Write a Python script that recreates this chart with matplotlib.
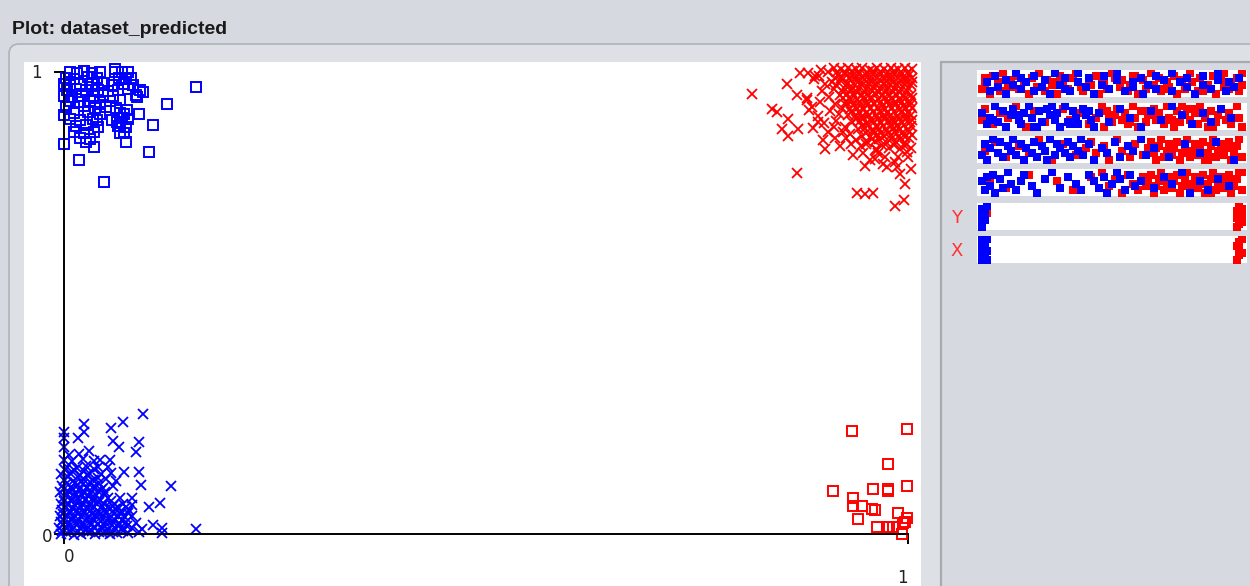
import matplotlib.pyplot as plt
from matplotlib.patches import FancyBboxPatch, Rectangle

# ---- scatter data (X, Y) ----
# blue squares, top-left
bsq_x = [.007, .015, .024, .033, .043, .060, .069, .076,
         .002, .012, .028, .039, .065, .073, .079,
         .000, .007, .019, .033, .047, .057, .071, .082,
         .004, .014, .026, .040, .052, .064, .076, .090,
         .000, .009, .021, .036, .046, .058, .086,
         .007, .017, .031, .043, .055, .066,
         .002, .024, .037, .050, .062,
         .012, .028, .043, .066, .071,
         .007, .019, .034, .057, .069, .076,
         .014, .026, .040, .064, .073,
         .012, .024, .036, .066,
         .019, .031,
         .156, .122, .105, .101, .047, .018, .000, .000, .036, .073,
         .071, .089, .075, .094, .085, .060, .039, .026, .063, .066]
bsq_y = [1.0, .998, 1.002, .997, 1.0, 1.006, .999, 1.001,
         .987, .985, .989, .986, .988, .984, .987,
         .974, .972, .975, .973, .976, .971, .974, .972,
         .961, .963, .960, .962, .959, .961, .963, .960,
         .948, .946, .949, .947, .950, .948, .946,
         .937, .935, .938, .936, .937, .939,
         .924, .926, .923, .925, .922,
         .911, .913, .910, .912, .909,
         .898, .896, .899, .897, .900, .898,
         .883, .885, .882, .884, .881,
         .870, .868, .871, .869,
         .857, .855,
         .967, .931, .885, .827, .762, .810, .844, .907, .838, .848,
         .868, .909, .918, .957, .950, 1.0, .896, .848, .892, .892]

# blue crosses, bottom-left
bx_x = [-.004, .004, .012, .020, .029, .037, .046, .054, .063, .076, .089, .116,
        -.006, .002, .010, .019, .027, .036, .044, .052, .061, .069, .080, .093,
        -.003, .006, .014, .023, .031, .040, .048, .057, .065, .073, .085,
        -.005, .003, .011, .020, .028, .037, .045, .055, .064, .072, .081,
        -.002, .007, .015, .024, .032, .041, .049, .060, .068, .077,
        -.004, .004, .013, .021, .030, .038, .047, .058, .070, .080,
        -.001, .009, .017, .026, .034, .043, .052, .066,
        -.005, .005, .013, .022, .031, .040, .049,
        -.002, .008, .017, .027, .036, .046, .058,
        .000, .011, .022, .034, .050, .062,
        -.003, .007, .019, .030, .044, .056,
        .003, .015, .026, .040, .052,
        .000, .010, .022, .036,
        .006, .018,
        -.002, .008, .016, .025, .033, .041, .050, .058, .070,
        -.001, .006, .015, .023, .032, .040, .048, .057, .065, .075,
        -.001, .010, .018, .027, .035, .044, .052, .061, .069,
        -.001, .007, .016, .024, .033, .041, .050, .059, .068, .076,
        .002, .011, .020, .028, .036, .045, .054, .064, .073,
        .000, .008, .017, .025, .034, .042, .056,
        .004, .013, .021, .030, .038, .047,
        .000, .009, .018, .027, .035, .044,
        .003, .013, .022, .031, .041,
        .005, .016, .028, .040,
        .001, .012, .024, .036,
        .094, .070, .056, .024, .024, .000, .000, .000, .017, .030, .058, .065, .089,
        .085, .127, .156, .114, .105, .101, .089, .091, .071, .055, .043, .081, .116]
bx_y = [.000, .003, -.002, .001, .004, .000, .002, -.001, .003, .002, .004, .003,
        .012, .014, .010, .013, .011, .015, .012, .009, .013, .011, .014, .010,
        .025, .023, .027, .024, .026, .022, .025, .028, .024, .026, .023,
        .038, .040, .036, .039, .037, .041, .038, .035, .039, .037, .040,
        .051, .049, .053, .050, .052, .048, .051, .054, .050, .052,
        .064, .066, .062, .065, .063, .067, .064, .061, .066, .063,
        .077, .075, .079, .076, .078, .074, .077, .079,
        .090, .092, .088, .091, .089, .093, .090,
        .103, .101, .105, .102, .104, .100, .103,
        .117, .115, .119, .116, .118, .114,
        .130, .132, .128, .131, .129, .133,
        .145, .143, .147, .144, .146,
        .160, .158, .162, .159,
        .172, .174,
        .006, .007, .005, .008, .006, .004, .007, .005, .006,
        .019, .018, .020, .017, .019, .021, .018, .020, .019, .017,
        .031, .032, .030, .033, .031, .029, .032, .030, .031,
        .044, .045, .043, .046, .044, .042, .045, .043, .044, .046,
        .058, .057, .059, .056, .058, .060, .057, .059, .058,
        .071, .072, .070, .073, .071, .069, .072,
        .084, .083, .085, .082, .084, .086,
        .097, .098, .096, .099, .097, .095,
        .110, .111, .109, .112, .110,
        .124, .123, .125, .122,
        .138, .139, .137, .140,
        .260, .242, .229, .238, .221, .221, .208, .188, .208, .180, .201, .188, .199,
        .177, .104, .011, .067, .019, .058, .134, .106, .134, .160, .160, .078, .013]

# red crosses, top-right
rx_x = [.912, .921, .929, .938, .946, .955, .963, .971, .980, .988, .996, 1.005,
        .917, .925, .934, .942, .950, .959, .967, .976, .984, .992, 1.001,
        .910, .921, .929, .938, .946, .955, .963, .971, .980, .988, .997, 1.005,
        .924, .933, .941, .950, .958, .967, .975, .983, .992, 1.000,
        .919, .928, .936, .945, .953, .962, .970, .978, .987, .995, 1.004,
        .926, .934, .943, .951, .960, .968, .976, .985, .993, 1.002,
        .922, .931, .939, .948, .956, .965, .973, .981, .990, .998, 1.005,
        .929, .938, .946, .954, .963, .971, .980, .988, .996, 1.003,
        .934, .943, .951, .960, .968, .977, .985, .993, 1.002,
        .941, .949, .958, .966, .975, .983, .991, 1.000,
        .946, .955, .963, .972, .980, .989, .997, 1.005,
        .952, .961, .975, .986, .996,
        .962, .978, .990, 1.003,
        .916, .925, .934, .942, .951, .959, .967, .976, .984, .992, 1.000,
        .913, .921, .930, .938, .946, .955, .963, .972, .980, .988, .997, 1.005,
        .915, .928, .937, .945, .954, .962, .971, .979, .987, .996, 1.004,
        .923, .932, .940, .949, .957, .966, .974, .982, .991, .999,
        .923, .930, .939, .947, .956, .964, .972, .981, .989, .997, 1.005,
        .926, .935, .943, .952, .960, .969, .977, .985, .994, 1.002,
        .933, .942, .950, .959, .967, .975, .984, .992, 1.000,
        .938, .947, .955, .964, .972, .981, .989, .997, 1.005,
        .945, .953, .962, .970, .979, .987, .995, 1.003,
        .950, .959, .968, .976, .985, .993, 1.001,
        .957, .966, .980, .991, 1.001,
        .969, .984, .997,
        .895, .902, .898, .906, .912, .905, .897, .889, .913, .918, .908, .915,
        .925, .931, .938, .926, .944, .932, .880, .886, .893, .900, .905, .912,
        .920, .935, .947, .955, .970, .985, 1.000, .990, 1.003, .965, .950,
        .815, .857, .868, .872, .882, .890, .839, .845, .858, .851, .858, .870,
        .868, .880, .883, .887, .893, .896, .899, .902, .914, .923, .949, .961,
        .963, .940, .949, .959, .996, .995, .985, .975, .987, .999, .973, .988]
rx_y = [1.008, 1.006, 1.009, 1.007, 1.008, 1.005, 1.008, 1.006, 1.009, 1.007, 1.008, 1.006,
        .994, .996, .992, .995, .993, .996, .994, .992, .995, .993, .994,
        .979, .981, .977, .980, .978, .981, .979, .977, .980, .978, .981, .979,
        .965, .963, .966, .964, .967, .965, .963, .966, .964, .965,
        .950, .952, .948, .951, .949, .952, .950, .948, .951, .949, .950,
        .935, .937, .934, .936, .933, .935, .937, .934, .936, .935,
        .921, .919, .922, .920, .923, .921, .919, .922, .920, .923, .921,
        .906, .908, .905, .907, .904, .906, .908, .905, .907, .906,
        .891, .893, .889, .892, .890, .893, .891, .889, .892,
        .876, .878, .874, .877, .875, .878, .876, .874,
        .862, .860, .863, .861, .864, .862, .860, .863,
        .848, .850, .846, .849, .847,
        .834, .836, .833, .835,
        1.001, 1.000, 1.002, 1.001, 1.000, 1.002, 1.001, 1.000, 1.002, 1.001, 1.000,
        .987, .988, .986, .987, .989, .986, .988, .987, .986, .988, .987, .986,
        .972, .973, .971, .972, .974, .971, .973, .972, .971, .973, .972,
        .957, .958, .956, .957, .959, .956, .958, .957, .956, .958,
        .943, .944, .942, .943, .945, .942, .944, .943, .942, .944, .943,
        .928, .929, .927, .928, .930, .927, .929, .928, .927, .929,
        .913, .914, .912, .913, .915, .912, .914, .913, .912,
        .898, .899, .897, .898, .900, .897, .899, .898, .897,
        .884, .885, .883, .884, .886, .883, .885, .884,
        .869, .870, .868, .869, .871, .868, .870,
        .855, .856, .854, .855, .857,
        .841, .842, .840,
        .992, .975, .958, .945, .963, 1.000, 1.005, .985, .930, .910, .915, .895,
        .880, .865, .852, .858, .840, .845, .940, .925, .905, .890, .870, .880,
        .840, .820, .825, .810, .800, .805, .815, .780, .790, .825, .845,
        .952, .974, .950, .998, .998, .991, .920, .913, .898, .877, .861, .877,
        .781, .944, .918, .879, .892, .935, .853, .833, .857, .870, .797, .812,
        .831, .738, .736, .738, .758, .723, .710, .794, .794, .827, .816, .816]

# red squares, bottom-right
rsq_x = [.934, .999, .976, .911, .935, .935, .945, .959, .976, .976, .999, .957,
         .961, .941, .988, .963, .975, .978, .996, .999, .994, .993, .982]
rsq_y = [.223, .227, .152, .093, .078, .061, .061, .097, .097, .093, .104, .054,
         .052, .032, .045, .015, .015, .015, .026, .035, .024, .000, .015]

# ---- attribute strips on the right (value 0-100, jitter 0-9) ----
a1_red_v = [0, 1, 1, 3, 4, 6, 7, 8, 10, 11, 13, 14, 16, 18, 19, 21, 22, 24, 25, 27,
            29, 30, 31, 33, 35, 36, 38, 39, 41, 42, 44, 45, 47, 48, 50, 51, 53, 54, 56, 57,
            59, 60, 62, 63, 65, 66, 68, 69, 71, 72, 74, 75, 77, 78, 80, 81, 83, 84, 86, 87,
            89, 90, 92, 93, 95, 96, 98, 99, 100, 100, 12, 28, 46, 58, 70, 85, 93]
a1_red_j = [2, 7, 4, 0, 8, 5, 1, 9, 3, 6, 8, 2, 5, 0, 7, 3, 9, 1, 6, 4,
            0, 8, 5, 2, 7, 9, 3, 1, 6, 4, 8, 0, 5, 2, 9, 7, 3, 6, 1, 4,
            8, 0, 6, 2, 9, 4, 7, 1, 5, 3, 8, 0, 6, 2, 9, 5, 1, 7, 3, 4,
            8, 0, 6, 9, 2, 5, 7, 1, 4, 9, 3, 5, 6, 8, 2, 1, 3]
a1_blue_v = [2, 3, 5, 6, 9, 9, 12, 13, 15, 15, 17, 20, 20, 23, 24, 26, 28, 30, 32, 32,
             34, 37, 37, 40, 41, 43, 46, 47, 49, 52, 52, 55, 58, 58, 61, 62, 64, 67, 67, 70,
             73, 73, 76, 79, 79, 82, 85, 85, 88, 91, 91, 94, 95, 97, 99]
a1_blue_j = [5, 1, 8, 3, 6, 0, 4, 9, 2, 7, 5, 1, 8, 3, 6, 0, 9, 4, 2, 7,
             1, 5, 9, 3, 7, 0, 4, 8, 2, 6, 9, 1, 5, 3, 7, 0, 4, 8, 2, 6,
             1, 9, 5, 3, 7, 0, 4, 8, 2, 6, 9, 1, 5, 3, 7]

a2_red_v = [0, 1, 4, 7, 10, 13, 17, 20, 24, 27, 31, 34, 38, 41,
            44, 46, 47, 48, 50, 51, 52, 54, 55, 56, 58, 59, 60, 62, 63, 64, 66, 67, 68, 70,
            71, 72, 74, 75, 76, 78, 79, 80, 82, 83, 84, 86, 87, 88, 90, 91, 92, 94, 95, 96,
            98, 99, 100, 49, 57, 65, 73, 81, 89, 97, 61, 77]
a2_red_j = [3, 8, 1, 6, 4, 9, 0, 7, 2, 5, 8, 3, 6, 1,
            4, 9, 0, 7, 2, 5, 8, 3, 6, 1, 9, 4, 0, 7, 2, 5, 8, 3, 6, 1,
            9, 4, 0, 7, 2, 5, 8, 3, 6, 1, 9, 4, 0, 7, 2, 5, 8, 3, 6, 1,
            9, 4, 0, 5, 2, 6, 3, 8, 0, 4, 7, 9]
a2_blue_v = [0, 2, 3, 5, 6, 8, 9, 11, 12, 14, 15, 16, 18, 19, 21, 22, 23, 25, 26, 28,
             29, 30, 32, 33, 35, 36, 37, 39, 40, 42, 43,
             45, 49, 53, 57, 61, 65, 69, 73, 77, 81, 85, 88, 92, 96, 4, 13, 20, 27, 34, 41]
a2_blue_j = [6, 1, 4, 9, 2, 7, 0, 5, 8, 3, 1, 6, 9, 4, 0, 7, 2, 8, 5, 3,
             6, 0, 9, 2, 7, 4, 1, 8, 5, 3, 0,
             6, 2, 8, 4, 0, 7, 3, 9, 5, 1, 6, 2, 8, 4, 3, 5, 0, 9, 1, 7]

a3_red_v = [1, 5, 9, 14, 18, 22, 27, 31, 36, 40, 42, 44, 47, 49, 52, 54, 57, 59, 62, 64,
            65, 66, 67, 68, 69, 70, 71, 72, 73, 74, 75, 76, 77, 78, 79, 80, 81, 82, 83, 84,
            85, 86, 87, 88, 89, 90, 91, 92, 93, 94, 95, 96, 97, 98, 99, 100,
            67, 71, 75, 79, 83, 87, 91, 95]
a3_red_j = [4, 8, 1, 6, 3, 9, 0, 7, 2, 5, 8, 3, 6, 0, 9, 4, 1, 7, 2, 5,
            8, 3, 0, 6, 9, 1, 4, 7, 2, 5, 8, 0, 3, 6, 9, 1, 4, 7, 2, 5,
            8, 0, 3, 6, 9, 1, 4, 7, 2, 5, 8, 0, 3, 6, 9, 1,
            5, 2, 8, 4, 7, 0, 3, 6]
a3_blue_v = [0, 1, 2, 3, 4, 6, 7, 8, 10, 11, 12, 13, 15, 16, 17, 19, 20, 21, 23, 24,
             25, 26, 28, 29, 30, 32, 33, 34, 35, 37, 38, 39,
             41, 43, 46, 48, 51, 53, 56, 58, 61, 63, 66, 72, 78, 84, 90, 97]
a3_blue_j = [2, 7, 0, 5, 9, 3, 8, 1, 6, 4, 9, 2, 7, 0, 5, 3, 8, 1, 6, 4,
             0, 9, 2, 7, 5, 3, 8, 1, 6, 4, 9, 2,
             7, 0, 5, 3, 8, 1, 6, 4, 9, 2, 5, 1, 7, 3, 8, 0]

a4_red_v = [3, 9, 18, 29, 35, 42, 46, 49, 51, 54, 56, 58, 60, 62, 63, 64,
            65, 66, 67, 68, 69, 70, 71, 72, 73, 74, 75, 76, 77, 78, 79, 80, 81, 82, 83, 84,
            85, 86, 87, 88, 89, 90, 91, 92, 93, 94, 95, 96, 97, 98, 99, 100,
            68, 72, 76, 80, 84, 88, 92, 96, 100, 70, 78, 86, 94]
a4_red_j = [6, 2, 8, 5, 1, 7, 9, 3, 6, 0, 8, 4, 1, 7, 3, 5,
            8, 0, 3, 6, 9, 1, 4, 7, 2, 5, 8, 0, 3, 6, 9, 1, 4, 7, 2, 5,
            8, 0, 3, 6, 9, 1, 4, 7, 2, 5, 8, 0, 3, 6, 9, 1,
            5, 2, 8, 4, 7, 0, 3, 6, 9, 1, 6, 4, 2]
a4_blue_v = [0, 1, 2, 3, 4, 5, 7, 8, 10, 11, 13, 15, 16, 19, 21, 24, 27, 30, 33, 36,
             38, 41, 43, 45, 47, 48, 50, 52, 53, 55, 57, 59, 61,
             66, 70, 73, 77, 80, 84, 87, 91, 95]
a4_blue_j = [5, 1, 7, 3, 8, 0, 6, 2, 9, 4, 1, 5, 8, 3, 0, 6, 9, 2, 7, 4,
             1, 8, 5, 2, 7, 0, 4, 9, 6, 1, 8, 3, 5,
             2, 7, 4, 9, 0, 5, 1, 6, 3]

y_red_v = [1, 2, 1, 98, 99, 100, 99, 98, 100, 99, 98, 100, 99]
y_red_j = [8, 6, 4, 0, 1, 2, 3, 4, 5, 6, 7, 8, 9]
y_blue_v = [0, 0, 0, 1, 1, 1, 0, 1, 0, 2, 1, 0]
y_blue_j = [0, 1, 2, 3, 4, 5, 6, 7, 8, 9, 5, 3]

x_red_v = [98, 99, 100, 99, 98, 99, 100]
x_red_j = [0, 2, 3, 5, 6, 8, 9]
x_blue_v = [0, 1, 0, 1, 2, 0, 1, 0, 1, 2, 0, 1, 2, 1]
x_blue_j = [0, 1, 2, 3, 4, 5, 6, 7, 8, 9, 9, 8, 0, 5]

strips = [(a1_red_v, a1_red_j, a1_blue_v, a1_blue_j, ''),
          (a2_red_v, a2_red_j, a2_blue_v, a2_blue_j, ''),
          (a3_red_v, a3_red_j, a3_blue_v, a3_blue_j, ''),
          (a4_red_v, a4_red_j, a4_blue_v, a4_blue_j, ''),
          (y_red_v, y_red_j, y_blue_v, y_blue_j, 'Y'),
          (x_red_v, x_red_j, x_blue_v, x_blue_j, 'X')]
strip_tops = [70, 103, 136, 169, 203, 236]

W, H = 1250, 586
BLUE = '#0000ff'
RED = '#ff0000'
GREY = '#d6d9e0'

fig = plt.figure(figsize=(12.5, 5.86), dpi=100)
fig.patch.set_facecolor(GREY)

# window chrome, in pixel units
bg = fig.add_axes([0, 0, 1, 1])
bg.set_xlim(0, W)
bg.set_ylim(H, 0)
bg.axis('off')
bg.add_patch(FancyBboxPatch((9, 44), 1300, 600, boxstyle='round,pad=0,rounding_size=10',
                            fc='#dde0e5', ec='#aeb2ba', lw=1.2))
bg.add_patch(Rectangle((24, 62), 897, 530, fc='white', ec='none'))
bg.add_patch(Rectangle((941, 62), 330, 530, fc=GREY, ec='#a7aab1', lw=1.6))
bg.text(12, 30, 'Plot: dataset_predicted', fontsize=14, fontweight='bold',
        family='Liberation Sans', va='center', color='#1a1a1a')

# main scatter
ax = fig.add_axes([64 / W, (H - 534) / H, 844 / W, 462 / H])
ax.set_xlim(0, 1)
ax.set_ylim(0, 1)
ax.patch.set_alpha(0)
ax.spines['top'].set_visible(False)
ax.spines['right'].set_visible(False)
ax.spines['left'].set_linewidth(1.4)
ax.spines['bottom'].set_linewidth(1.4)
ax.set_xticks([0, 1])
ax.set_yticks([0, 1])
ax.tick_params(direction='out', length=7, width=1.4, labelbottom=False, labelleft=False)

ax.plot(bx_x, bx_y, ls='none', marker='x', ms=6.5, mew=1.3, color=BLUE, clip_on=False)
ax.plot(rx_x, rx_y, ls='none', marker='x', ms=6.5, mew=1.3, color=RED, clip_on=False)
ax.plot(bsq_x, bsq_y, ls='none', marker='s', ms=7.5, mew=1.4, mfc='none', mec=BLUE, clip_on=False)
ax.plot(rsq_x, rsq_y, ls='none', marker='s', ms=7.5, mew=1.4, mfc='none', mec=RED, clip_on=False)

tick_font = dict(fontsize=12, family='DejaVu Sans', ha='center', va='center',
                 textcoords='offset pixels', color='#222222')
ax.annotate('1', (0, 1), xytext=(-28, -1), **tick_font)
ax.annotate('0', (0, 0), xytext=(-17, -3), **tick_font)
ax.annotate('0', (0, 0), xytext=(5, -23), **tick_font)
ax.annotate('1', (1, 0), xytext=(-6, -44), **tick_font)

# attribute strips
for (rv, rj, bv, bj, label), top in zip(strips, strip_tops):
    sa = fig.add_axes([977 / W, (H - top - 27) / H, 270 / W, 27 / H])
    sa.set_facecolor('white')
    sa.set_xlim(-2, 102)
    sa.set_ylim(-1.5, 10.5)
    sa.set_xticks([])
    sa.set_yticks([])
    for s in sa.spines.values():
        s.set_visible(False)
    sa.plot(rv, rj, ls='none', marker='s', ms=5.3, mew=0, color=RED)
    sa.plot(bv, bj, ls='none', marker='s', ms=5.3, mew=0, color=BLUE)
    if label:
        bg.text(957, top + 15, label, fontsize=13, color='#ff3333', ha='center', va='center')

fig.savefig('out.png', dpi=100, facecolor=fig.get_facecolor())
